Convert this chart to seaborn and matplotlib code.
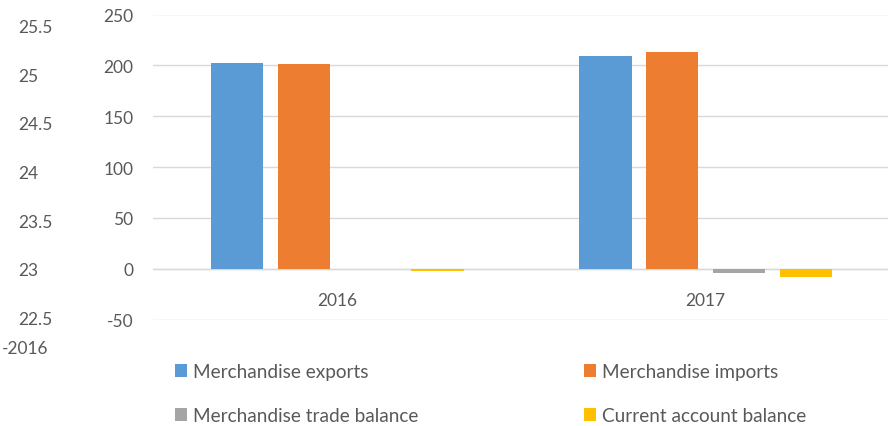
import matplotlib
matplotlib.use("Agg")
import matplotlib.pyplot as plt
import seaborn as sns
import pandas as pd
from matplotlib.patches import Patch

years = ["2016", "2017"]
series_names = ["Merchandise exports", "Merchandise imports",
                "Merchandise trade balance", "Current account balance"]
exports = [202.5, 209.0]
imports = [201.5, 212.8]
trade_balance = [0.3, -4.5]
current_account = [-2.0, -8.5]
colors = ["#5B9BD5", "#ED7D31", "#A5A5A5", "#FFC000"]
left_ticks = [22.5, 23, 23.5, 24, 24.5, 25, 25.5]
left_tick_labels = ["22.5", "23", "23.5", "24", "24.5", "25", "25.5"]
main_ticks = [-50, 0, 50, 100, 150, 200, 250]

rows = []
for name, vals in zip(series_names, [exports, imports, trade_balance, current_account]):
    for y, v in zip(years, vals):
        rows.append({"year": y, "series": name, "value": v})
df = pd.DataFrame(rows)

sns.set_theme(style="white")
plt.rcParams["font.family"] = ["Lato", "DejaVu Sans"]
txt = "#595959"
fs = 12.5
lfs = 13.7

W, H = 888, 427
fig = plt.figure(figsize=(W / 100, H / 100), dpi=100)
ax = fig.add_axes([153 / W, 1 - 320.7 / H, (890 - 153) / W, (320.7 - 15.5) / H])

sns.barplot(data=df, x="year", y="value", hue="series", hue_order=series_names,
            palette=colors, width=0.726, gap=0.22, ax=ax, legend=False,
            saturation=1, edgecolor="none")
for p in ax.patches:
    p.set_zorder(3)

ax.set_ylim(-50, 250)
ax.set_yticks(main_ticks)
ax.set_yticklabels([str(t) for t in main_ticks])
ax.grid(axis="y", color="#D9D9D9", linewidth=1, zorder=0.5)
ax.set_axisbelow(True)
for s in ["top", "right", "left"]:
    ax.spines[s].set_visible(False)
ax.spines["bottom"].set_position(("data", 0))
ax.spines["bottom"].set_color("#D9D9D9")
ax.spines["bottom"].set_linewidth(1)
ax.spines["bottom"].set_zorder(1)
ax.tick_params(axis="y", length=0, pad=14, labelsize=fs, labelcolor=txt)
ax.tick_params(axis="x", length=0, pad=17, labelsize=fs, labelcolor=txt)
ax.set_xlabel("")
ax.set_ylabel("")
ax.set_xlim(-0.5, 1.5)

# secondary (left) axis
ax2 = fig.add_axes([18 / W, 1 - 318.3 / H, 50 / W, (318.3 - 26.7) / H])
ax2.set_ylim(22.5, 25.5)
ax2.set_yticks(left_ticks)
ax2.set_yticklabels(left_tick_labels)
for lbl in ax2.get_yticklabels():
    lbl.set_horizontalalignment("left")
ax2.tick_params(axis="y", length=0, pad=0, labelsize=fs, labelcolor=txt)
ax2.set_xlim(0, 1)
ax2.set_xticks([(25 - 18) / 50])
ax2.set_xticklabels(["-2016"])
ax2.tick_params(axis="x", length=0, pad=16, labelsize=fs, labelcolor=txt)
for s in ax2.spines.values():
    s.set_visible(False)
ax2.patch.set_alpha(0)

handles = [Patch(facecolor=colors[i], edgecolor="none", label=series_names[i]) for i in [0, 2, 1, 3]]
fig.legend(handles=handles, ncol=2, loc="upper left", bbox_to_anchor=(158 / W, 1 - 347 / H),
           frameon=False, fontsize=lfs, labelcolor=txt, handlelength=0.65, handleheight=0.65,
           handletextpad=0.3, columnspacing=8.7, labelspacing=1.42)

fig.savefig("out.png", dpi=100)
